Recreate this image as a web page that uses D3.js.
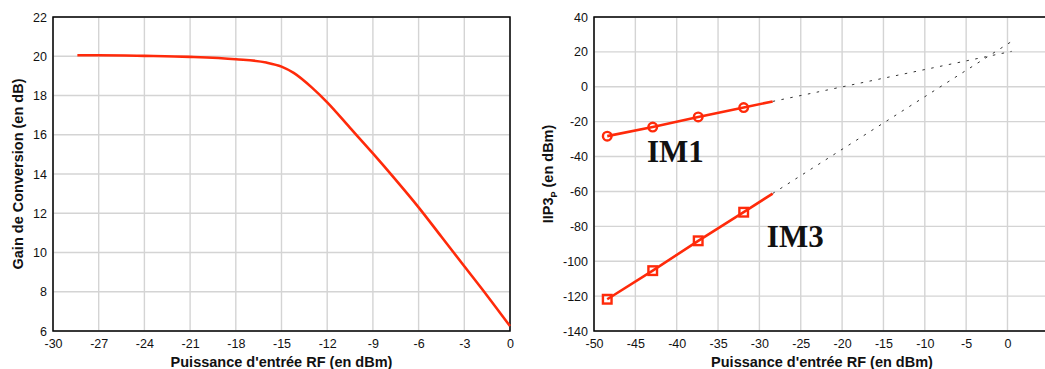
<!DOCTYPE html>
<meta charset="utf-8">
<style>
  body { margin: 0; background: #fff; }
  svg { display: block; font-family: "Liberation Sans", Arial, sans-serif; }
  .tick text { font-size: 12.5px; fill: #111; }
  .title { font-size: 14.5px; font-weight: bold; fill: #111; }
  .lbl { font-family: "Liberation Serif", "Times New Roman", serif; font-weight: bold; font-size: 31px; fill: #111; }
</style>
<svg width="1045" height="369"></svg>
<script src="https://d3js.org/d3.v7.min.js"></script>
<script>
  // gain de conversion vs puissance d'entree
  var gainPin = [-28.4, -27, -24, -21, -18, -16, -15, -14.2, -13, -12, -10.5, -9, -7.5, -6, -4.5, -3, -1.5, 0];
  var gainDb = [20.05, 20.05, 20.02, 19.97, 19.85, 19.68, 19.47, 19.15, 18.4, 17.65, 16.35, 15.05, 13.7, 12.3, 10.8, 9.3, 7.8, 6.25];

  // IIP3 : points mesures
  var imPin = [-48.4, -42.9, -37.4, -31.9];
  var im1 = [-28.3, -23.1, -17.3, -11.9];
  var im3 = [-121.8, -105.4, -88.3, -71.9];
  // fin des traits pleins et extrapolation
  var fitEnd = [-28.4, 0.5];
  var im1Fit = [-8.4, 20.3];
  var im3Fit = [-61.2, 26.0];

  var xTicksL = d3.range(-30, 1, 3), yTicksL = d3.range(6, 23, 2);
  var xTicksR = d3.range(-50, 1, 5), yTicksR = d3.range(-140, 41, 20);

  var red = "#ff2a0a", grid = "#d4d4d4";
  var svg = d3.select("svg");
  var fmt = function(d) { return String(d); };

  function frame(g, x, y, xt, yt, w, h) {
    g.append("g").selectAll("line").data(xt).enter().append("line")
      .attr("x1", x).attr("x2", x).attr("y1", 0).attr("y2", h)
      .attr("stroke", grid).attr("stroke-width", 1.4);
    g.append("g").selectAll("line").data(yt).enter().append("line")
      .attr("y1", y).attr("y2", y).attr("x1", 0).attr("x2", w)
      .attr("stroke", grid).attr("stroke-width", 1.4);

    var ax = g.append("g").attr("transform", "translate(0," + h + ")")
      .call(d3.axisBottom(x).tickValues(xt).tickSize(0).tickPadding(8).tickFormat(fmt));
    var ay = g.append("g")
      .call(d3.axisLeft(y).tickValues(yt).tickSize(0).tickPadding(6).tickFormat(fmt));
    ax.select(".domain").remove();
    ay.select(".domain").remove();
    g.append("rect").attr("width", w).attr("height", h)
      .attr("fill", "none").attr("stroke", "#000").attr("stroke-width", 1.5);
  }

  // ---- gauche
  var L = { left: 53, top: 17, w: 457, h: 314 };
  var gL = svg.append("g").attr("transform", "translate(" + L.left + "," + L.top + ")");
  var xL = d3.scaleLinear().domain([-30, 0]).range([0, L.w]);
  var yL = d3.scaleLinear().domain([6, 22]).range([L.h, 0]);
  frame(gL, xL, yL, xTicksL, yTicksL, L.w, L.h);

  gL.append("path")
    .datum(d3.zip(gainPin, gainDb))
    .attr("fill", "none").attr("stroke", red).attr("stroke-width", 2.6)
    .attr("d", d3.line().x(function(d) { return xL(d[0]); }).y(function(d) { return yL(d[1]); }).curve(d3.curveMonotoneX));

  svg.append("text").attr("class", "title").attr("text-anchor", "middle")
    .attr("x", L.left + L.w / 2).attr("y", 367).text("Puissance d'entrée RF (en dBm)");
  svg.append("text").attr("class", "title").attr("text-anchor", "middle")
    .attr("transform", "translate(23," + (L.top + L.h / 2) + ") rotate(-90)")
    .text("Gain de Conversion (en dB)");

  // ---- droite
  var R = { left: 594, top: 17, h: 314 };
  var xR = d3.scaleLinear().domain([-50, 0]).range([0, 413.5]);
  R.w = xR(5);
  var yR = d3.scaleLinear().domain([-140, 40]).range([R.h, 0]);
  var gR = svg.append("g").attr("transform", "translate(" + R.left + "," + R.top + ")");
  frame(gR, xR, yR, xTicksR, yTicksR, R.w, R.h);

  var line = d3.line().x(function(d) { return xR(d[0]); }).y(function(d) { return yR(d[1]); });

  [[im1, im1Fit], [im3, im3Fit]].forEach(function(s) {
    gR.append("path").datum([[fitEnd[0], s[1][0]], [fitEnd[1], s[1][1]]])
      .attr("fill", "none").attr("stroke", "#333").attr("stroke-width", 1)
      .attr("stroke-dasharray", "2.5,6.5").attr("d", line);
    gR.append("path").datum(d3.zip(imPin, s[0]).concat([[fitEnd[0], s[1][0]]]))
      .attr("fill", "none").attr("stroke", red).attr("stroke-width", 2.6).attr("d", line);
  });

  gR.selectAll(".c").data(d3.zip(imPin, im1)).enter().append("circle")
    .attr("cx", function(d) { return xR(d[0]); }).attr("cy", function(d) { return yR(d[1]); })
    .attr("r", 4.3).attr("fill", "none").attr("stroke", red).attr("stroke-width", 2.4);
  gR.selectAll(".s").data(d3.zip(imPin, im3)).enter().append("rect")
    .attr("x", function(d) { return xR(d[0]) - 4.3; }).attr("y", function(d) { return yR(d[1]) - 4.3; })
    .attr("width", 8.6).attr("height", 8.6).attr("fill", "none").attr("stroke", red).attr("stroke-width", 2.4);

  gR.append("text").attr("class", "lbl").attr("x", xR(-43.6)).attr("y", yR(-43.3)).text("IM1");
  gR.append("text").attr("class", "lbl").attr("x", xR(-29.1)).attr("y", yR(-91.8)).text("IM3");

  svg.append("text").attr("class", "title").attr("text-anchor", "middle")
    .attr("x", 822).attr("y", 367).text("Puissance d'entrée RF (en dBm)");
  var t = svg.append("text").attr("class", "title").attr("text-anchor", "middle")
    .attr("transform", "translate(553," + (R.top + R.h / 2) + ") rotate(-90)");
  t.append("tspan").text("IIP3");
  t.append("tspan").attr("font-size", "9px").attr("dy", 4).text("P");
  t.append("tspan").attr("dy", -4).text(" (en dBm)");
</script>
